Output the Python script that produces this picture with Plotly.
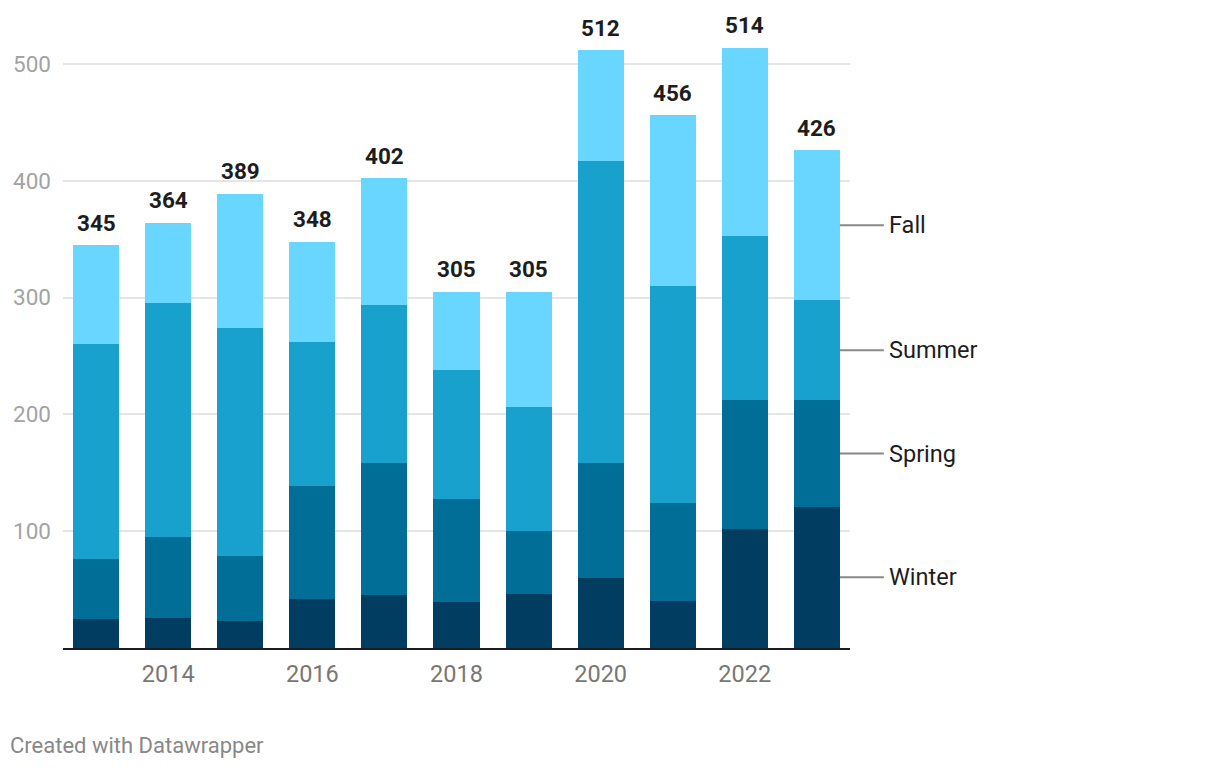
import plotly.graph_objects as go

years = [2013, 2014, 2015, 2016, 2017, 2018, 2019, 2020, 2021, 2022, 2023]
winter = [25, 26, 23, 42, 45, 39, 46, 60, 40, 102, 121]
spring = [51, 69, 56, 97, 113, 89, 54, 98, 84, 110, 91]
summer = [184, 200, 195, 123, 136, 110, 106, 259, 186, 141, 86]
fall = [85, 69, 115, 86, 108, 67, 99, 95, 146, 161, 128]
totals = [345, 364, 389, 348, 402, 305, 305, 512, 456, 514, 426]

series = [("Winter", winter, "#003d61"), ("Spring", spring, "#006e96"),
          ("Summer", summer, "#18a1cd"), ("Fall", fall, "#69d6ff")]

xticks = [2014, 2016, 2018, 2020, 2022]
yticks = [100, 200, 300, 400, 500]

BAR_W = 0.64
x_min, x_max = years[0] - 0.46, years[-1] + 0.46

fig = go.Figure()
for name, vals, col in series:
    fig.add_trace(go.Bar(x=years, y=vals, name=name, marker=dict(color=col, line=dict(width=0)),
                         width=BAR_W, hoverinfo="x+y+name"))

annotations = []
for yr, t in zip(years, totals):
    annotations.append(dict(x=yr, y=t, text=f"<b>{t}</b>", showarrow=False, yanchor="bottom",
                            yshift=7.5, font=dict(family="Roboto", size=22.5, color="#1d1d1d")))

# direct labels at the last bar
last = len(years) - 1
cum = 0
x_edge_paper = (years[-1] + BAR_W / 2 - x_min) / (x_max - x_min)
shapes = []
for name, vals, col in series:
    mid = cum + vals[last] / 2
    cum += vals[last]
    shapes.append(dict(type="line", xref="paper", yref="y", x0=x_edge_paper, x1=1.043,
                       y0=mid, y1=mid, line=dict(color="#888888", width=2)))
    annotations.append(dict(xref="paper", x=1.047, y=mid, text=name, showarrow=False, xanchor="left",
                            yanchor="middle", font=dict(family="Roboto", size=23.5, color="#1d1d1d")))

annotations.append(dict(xref="paper", yref="paper", x=-0.0698, y=-0.158, xanchor="left", yanchor="middle",
                        text="Created with Datawrapper", showarrow=False,
                        font=dict(family="Roboto", size=22, color="#888888")))

fig.update_layout(
    barmode="stack",
    width=1212, height=762,
    margin=dict(l=55, r=370, t=21, b=122, autoexpand=False),
    plot_bgcolor="white", paper_bgcolor="white",
    showlegend=False,
    annotations=annotations,
    shapes=shapes,
    font=dict(family="Roboto"),
    xaxis=dict(range=[x_min, x_max], tickvals=xticks, ticktext=[str(v) for v in xticks],
               showgrid=False, showline=True, linecolor="#1d1d1d", linewidth=2, automargin=False,
               ticks="", ticklabelstandoff=4,
               tickfont=dict(family="Roboto", size=23.5, color="#777777"), zeroline=False),
    yaxis=dict(range=[0, 530], tickvals=yticks, showgrid=True, gridcolor="#e5e5e5", gridwidth=1.5,
               zeroline=False, ticks="", ticklabelstandoff=11, automargin=False,
               tickfont=dict(family="Roboto", size=22.5, color="#a3a3a3")),
)

fig.write_html("out.html")
